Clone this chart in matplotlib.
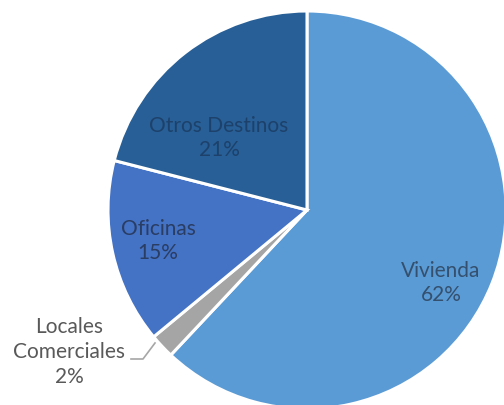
import matplotlib.pyplot as plt

# share of each use, clockwise from 12 o'clock
categories = ["Vivienda", "Locales\nComerciales", "Oficinas", "Otros Destinos"]
values = [62, 2, 15, 21]
colors = ["#5B9BD5", "#A5A5A5", "#4472C4", "#275F96"]

W, H = 504, 405
fig = plt.figure(figsize=(W / 100, H / 100), dpi=100)
ax = fig.add_axes([0, 0, 1, 1])

cx, cy, rad = 307, H - 210, 199

wedges, _ = ax.pie(values, colors=colors, startangle=90, counterclock=False,
                   center=(cx, cy), radius=rad, frame=True,
                   wedgeprops=dict(edgecolor="white", linewidth=2.2))
ax.set_xlim(0, W)
ax.set_ylim(0, H)
ax.axis("off")

# label anchors (pixel offsets from the top-left)
label_pos = [(441, 283), (69, 352), (158, 241), (219, 138)]
label_col = ["#34506e", "#595959", "#2a3d63", "#1d416b"]
for name, v, (x, y), c in zip(categories, values, label_pos, label_col):
    ax.text(x, H - y, f"{name}\n{v}%", ha="center", va="center",
            fontsize=15, family="Lato", color=c, linespacing=1.3)

# leader line for the thin slice
ax.plot([131, 143, 155], [H - 359, H - 359, H - 343], color="#a6a6a6", lw=1.2)

fig.savefig("out.png", dpi=100)
